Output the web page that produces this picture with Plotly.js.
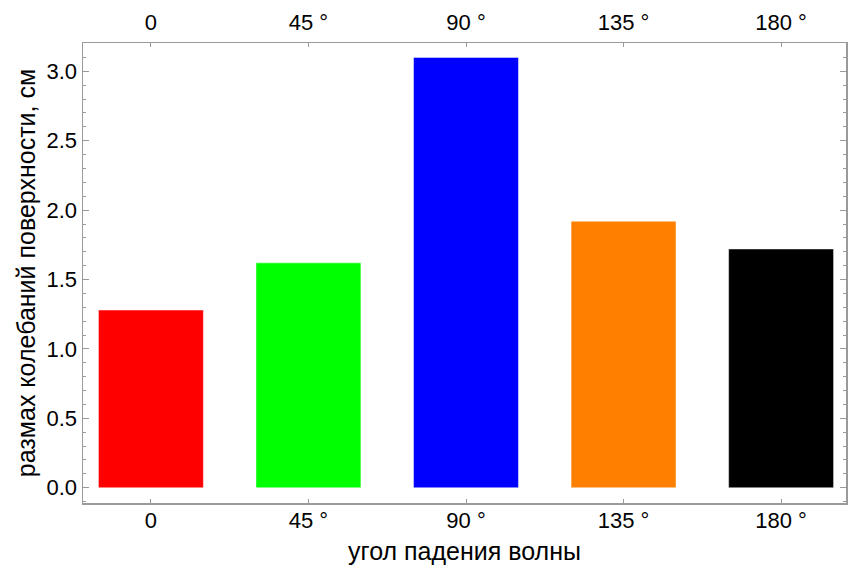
<!DOCTYPE html>
<html>
<head>
<meta charset="utf-8">
<script src="https://cdn.plot.ly/plotly-3.0.1.min.js"></script>
<style>html,body{margin:0;padding:0;background:#fff;}#chart{width:848px;height:569px;}</style>
</head>
<body>
<div id="chart"></div>
<script>
const categories = ["0", "45 °", "90 °", "135 °", "180 °"];
const values = [1.28, 1.62, 3.10, 1.92, 1.72];
const barColors = ["#FF0000", "#00FF00", "#0000FF", "#FF8000", "#000000"];
const xTitle = "угол падения волны";
const yTitle = "размах колебаний поверхности, см";

const tickFont = {family: "Liberation Sans, Arial, sans-serif", size: 22, color: "#000"};
const titleFont = {family: "Liberation Sans, Arial, sans-serif", size: 25, color: "#000"};
const frameColor = "#9a9a9a";
const xRange = [-0.431, 4.412];

const traces = [
  {
    type: "bar", x: categories, y: values, width: 0.666,
    marker: {color: barColors, line: {color: "rgba(255,255,255,0.45)", width: 1}},
    hoverinfo: "x+y"
  },
  {
    type: "bar", x: categories, y: values, width: 0.666, xaxis: "x2",
    marker: {color: "rgba(0,0,0,0)"}, hoverinfo: "skip", showlegend: false
  }
];

const layout = {
  width: 848, height: 569,
  margin: {l: 83, r: 2, t: 43, b: 66},
  paper_bgcolor: "#fff", plot_bgcolor: "#fff",
  showlegend: false, barmode: "overlay",
  font: tickFont,
  xaxis: {
    type: "category", range: xRange,
    showline: true, linecolor: frameColor, linewidth: 1.5, mirror: "ticks",
    ticks: "inside", ticklen: 4, tickcolor: frameColor, tickwidth: 1,
    showgrid: false, zeroline: false,
    tickfont: tickFont, ticklabelstandoff: -3,
    title: {text: xTitle, font: titleFont, standoff: 10}
  },
  xaxis2: {
    type: "category", range: xRange, overlaying: "x", side: "top",
    showline: false, ticks: "", showgrid: false, zeroline: false,
    tickfont: tickFont, ticklabelstandoff: 8
  },
  yaxis: {
    range: [-0.11, 3.204], dtick: 0.5, tick0: 0, tickformat: ".1f",
    showline: true, linecolor: frameColor, linewidth: 1.5, mirror: "ticks",
    ticks: "inside", ticklen: 6, tickcolor: frameColor, tickwidth: 1,
    minor: {dtick: 0.1, ticks: "inside", ticklen: 3, tickcolor: frameColor, tickwidth: 1},
    showgrid: false, zeroline: false,
    tickfont: tickFont,
    title: {text: yTitle, font: titleFont, standoff: 4}
  }
};

Plotly.newPlot("chart", traces, layout, {displayModeBar: false, staticPlot: true});
</script>
</body>
</html>
